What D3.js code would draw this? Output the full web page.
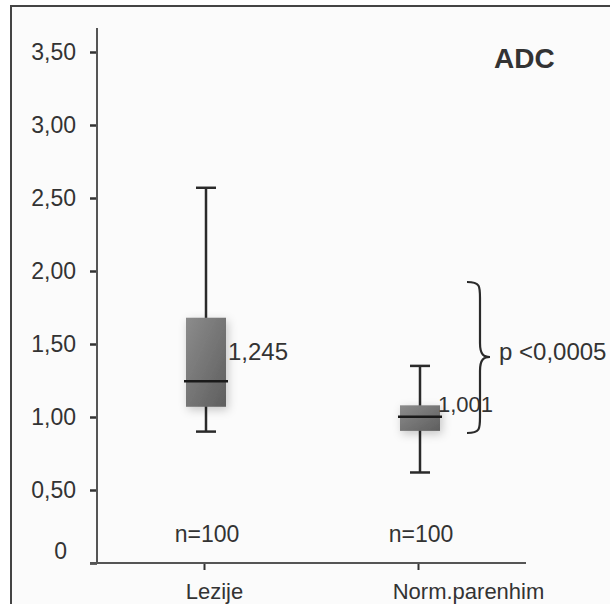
<!DOCTYPE html>
<html><head><meta charset="utf-8">
<script src="https://cdn.jsdelivr.net/npm/d3@7"></script>
<style>body{margin:0;background:#fff}svg{display:block}text{font-family:"Liberation Sans",Arial,sans-serif;fill:#333}</style>
</head><body><div id="c"></div>
<script>
const categories = ["Lezije", "Norm.parenhim"];
const whiskerLow = [0.90, 0.62];
const q1 = [1.07, 0.905];
const median = [1.245, 1.001];
const q3 = [1.68, 1.08];
const whiskerHigh = [2.57, 1.35];
const medianLabels = ["1,245", "1,001"];
const nLabels = ["n=100", "n=100"];
const yTicks = [0, 0.5, 1.0, 1.5, 2.0, 2.5, 3.0, 3.5];
const title = "ADC";
const pText = "p <0,0005";

const W = 610, H = 604;
const svg = d3.select("#c").append("svg").attr("width", W).attr("height", H);
const defs = svg.append("defs");
const grad = defs.append("linearGradient").attr("id", "g").attr("x1", 0).attr("y1", 0).attr("x2", 1).attr("y2", 1);
grad.append("stop").attr("offset", "0%").attr("stop-color", "#8c8c8c");
grad.append("stop").attr("offset", "100%").attr("stop-color", "#5e5e5e");
const f = defs.append("filter").attr("id", "sh").attr("x", "-50%").attr("y", "-50%").attr("width", "200%").attr("height", "200%");
f.append("feDropShadow").attr("dx", 2).attr("dy", 3).attr("stdDeviation", 5).attr("flood-color", "#000").attr("flood-opacity", 0.22);

svg.append("rect").attr("x", 11).attr("y", 6).attr("width", 800).attr("height", 800)
  .attr("fill", "#fbfbfb").attr("stroke", "#444").attr("stroke-width", 2);

const y = d3.scaleLinear().domain([0, 3.5]).range([563, 52]);
const x = d3.scalePoint().domain(categories).range([97, 525]).padding(0.5);

// y axis
const ya = svg.append("g").attr("transform", "translate(97,0)")
  .call(d3.axisLeft(y).tickValues(yTicks).tickSize(7).tickPadding(14)
    .tickFormat(d => d === 0 ? "0" : d3.format(".2f")(d).replace(".", ",")));
ya.select(".domain").remove();
ya.selectAll(".tick line").attr("stroke", "#333").attr("stroke-width", 2.5);
ya.selectAll(".tick text").style("font-size", "23px").attr("fill", "#333");
ya.selectAll(".tick").filter(d => d === 0).select("text").attr("dx", -9).attr("dy", "-0.2em");
svg.append("line").attr("x1", 97).attr("x2", 97).attr("y1", 28).attr("y2", y(0))
  .attr("stroke", "#555").attr("stroke-width", 2);

// x axis
const xa = svg.append("g").attr("transform", `translate(0,${y(0)})`)
  .call(d3.axisBottom(x).tickSize(7).tickPadding(10).tickSizeOuter(0));
xa.select(".domain").remove();
xa.selectAll(".tick line").attr("stroke", "#333").attr("stroke-width", 2);
xa.selectAll(".tick text").style("font-size", "22px").attr("fill", "#333").attr("dy", "0.85em")
  .attr("dx", (d, i) => i === 0 ? 10 : 50);
svg.append("line").attr("x1", 90).attr("x2", 526).attr("y1", y(0)).attr("y2", y(0))
  .attr("stroke", "#555").attr("stroke-width", 2);

// boxes
const bw = 40, cw = 20;
const data = categories.map((c, i) => ({c, lo: whiskerLow[i], q1: q1[i], med: median[i], q3: q3[i], hi: whiskerHigh[i], lab: medianLabels[i], n: nLabels[i]}));
const g = svg.selectAll(".box").data(data).join("g").attr("class", "box");
g.append("line").attr("x1", d => x(d.c) + 2).attr("x2", d => x(d.c) + 2).attr("y1", d => y(d.hi)).attr("y2", d => y(d.lo))
  .attr("stroke", "#2a2a2a").attr("stroke-width", 2.5);
g.append("line").attr("x1", d => x(d.c) + 2 - cw / 2).attr("x2", d => x(d.c) + 2 + cw / 2).attr("y1", d => y(d.hi)).attr("y2", d => y(d.hi))
  .attr("stroke", "#2a2a2a").attr("stroke-width", 2.5);
g.append("line").attr("x1", d => x(d.c) + 2 - cw / 2).attr("x2", d => x(d.c) + 2 + cw / 2).attr("y1", d => y(d.lo)).attr("y2", d => y(d.lo))
  .attr("stroke", "#2a2a2a").attr("stroke-width", 2.5);
g.append("rect").attr("x", d => x(d.c) + 2 - bw / 2).attr("width", bw).attr("y", d => y(d.q3)).attr("height", d => y(d.q1) - y(d.q3))
  .attr("fill", "url(#g)").attr("filter", "url(#sh)");
g.append("line").attr("x1", d => x(d.c) + 2 - bw / 2 - 2).attr("x2", d => x(d.c) + 2 + bw / 2 + 2).attr("y1", d => y(d.med)).attr("y2", d => y(d.med))
  .attr("stroke", "#1a1a1a").attr("stroke-width", 2.5);
g.append("text").attr("x", (d, i) => x(d.c) + (i === 0 ? 24 : 20)).attr("y", (d, i) => i === 0 ? y(d.q3) + 42 : y(d.med) - 5)
  .style("font-size", (d, i) => i === 0 ? "24px" : "22px").text(d => d.lab);
g.append("text").attr("x", d => x(d.c) + 3).attr("y", 542).attr("text-anchor", "middle")
  .style("font-size", "23px").text(d => d.n);

// brace
const bx = 467, by0 = 282, by1 = 433, bm = 357, tip = 490;
const bc = 480;
const bp = `M${bx},${by0} C${bc},${by0} ${bc},${by0 + 4} ${bc},${by0 + 16} L${bc},${bm - 14} C${bc},${bm - 2} ${bc + 4},${bm} ${tip},${bm} C${bc + 4},${bm} ${bc},${bm + 2} ${bc},${bm + 14} L${bc},${by1 - 16} C${bc},${by1 - 4} ${bc},${by1} ${bx},${by1}`;
svg.append("path").attr("d", bp).attr("fill", "none").attr("stroke", "#2a2a2a").attr("stroke-width", 2.2);
svg.append("text").attr("x", 499).attr("y", 360).style("font-size", "24px").text(pText);

svg.append("text").attr("x", 494).attr("y", 68).style("font-size", "28px").style("font-weight", "bold").attr("fill", "#222").text(title);
</script></body></html>
